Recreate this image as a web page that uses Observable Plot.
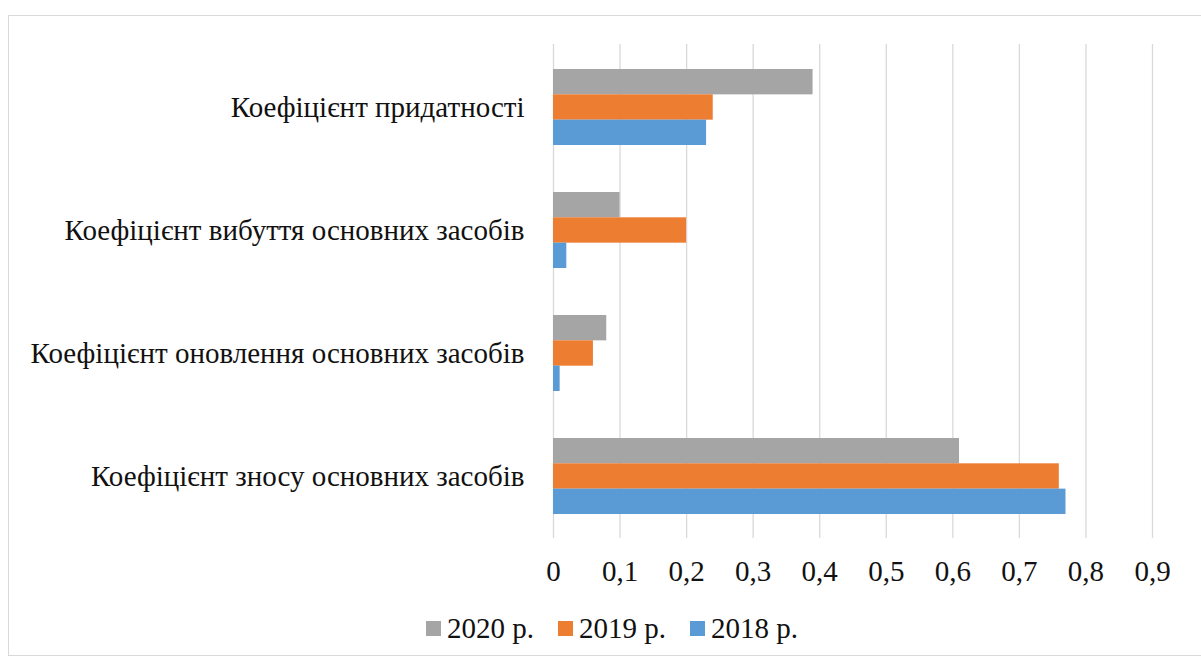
<!DOCTYPE html>
<html>
<head>
<meta charset="utf-8">
<script src="https://cdn.jsdelivr.net/npm/d3@7"></script>
<script src="https://cdn.jsdelivr.net/npm/@observablehq/plot@0.6"></script>
<style>
  html, body { margin: 0; padding: 0; background: #fff; }
  body { width: 1201px; height: 668px; position: relative; overflow: hidden; font-family: "Liberation Serif", serif; }
  #frame { position: absolute; left: 8px; top: 15px; width: 1210px; height: 641px; border: 1.5px solid #d9d9d9; box-sizing: border-box; }
  #chart { position: absolute; left: 0; top: 0; }
  #legend { position: absolute; left: 426px; top: 612px; display: flex; align-items: center; font-size: 29px; color: #111; }
  .item { display: flex; align-items: center; margin-right: 24px; }
  .sw { width: 15px; height: 15px; margin-right: 6px; }
</style>
</head>
<body>
<div id="frame"></div>
<div id="chart"></div>
<div id="legend"></div>
<script>
const categories = [
  "Коефіцієнт придатності",
  "Коефіцієнт вибуття основних засобів",
  "Коефіцієнт оновлення основних засобів",
  "Коефіцієнт зносу основних засобів"
];
const years = ["2020 р.", "2019 р.", "2018 р."];
const values2020 = [0.39, 0.10, 0.08, 0.61];
const values2019 = [0.24, 0.20, 0.06, 0.76];
const values2018 = [0.23, 0.02, 0.01, 0.77];
const xTicks = [0, 0.1, 0.2, 0.3, 0.4, 0.5, 0.6, 0.7, 0.8, 0.9];
const xTickLabels = ["0", "0,1", "0,2", "0,3", "0,4", "0,5", "0,6", "0,7", "0,8", "0,9"];
const colors = ["#a5a5a5", "#ed7d31", "#5b9bd5"];

const series = [values2020, values2019, values2018];
const rows = years.map((year, s) => categories.map((cat, i) => ({cat, year, value: series[s][i]})));

const barH = 75.95 / 3;
const insets = [
  {insetTop: 0, insetBottom: 2 * barH},
  {insetTop: barH, insetBottom: barH},
  {insetTop: 2 * barH, insetBottom: 0}
];

const FONT = "'Liberation Serif', 'Times New Roman', Tinos, serif";

const plot = Plot.plot({
  width: 1201,
  height: 600,
  marginLeft: 553,
  marginRight: 49,
  marginTop: 44,
  marginBottom: 62,
  style: {background: "transparent", color: "#111", fontSize: "29px"},
  x: {domain: [0, 0.9], ticks: xTicks, tickFormat: d => xTickLabels[xTicks.indexOf(d)], tickSize: 0, tickPadding: 22, label: null},
  y: {domain: categories, paddingInner: 0.385, paddingOuter: 0.1925, tickSize: 0, tickPadding: 29, label: null},
  marks: [
    Plot.ruleX(xTicks, {stroke: "#d9d9d9", strokeWidth: 1.3}),
    ...rows.map((data, s) => Plot.barX(data, {x: "value", y: "cat", fill: colors[s], ...insets[s]}))
  ]
});
plot.style.setProperty("font-family", FONT, "important");
plot.querySelectorAll("g, text").forEach(el => el.style.setProperty("font-family", FONT, "important"));
document.getElementById("chart").appendChild(plot);

const legend = document.getElementById("legend");
legend.style.setProperty("font-family", FONT, "important");
years.forEach((y, i) => {
  const it = document.createElement("div");
  it.className = "item";
  const sw = document.createElement("div");
  sw.className = "sw";
  sw.style.background = colors[i];
  const t = document.createElement("span");
  t.textContent = y;
  t.style.setProperty("font-family", FONT, "important");
  it.appendChild(sw);
  it.appendChild(t);
  legend.appendChild(it);
});
</script>
</body>
</html>
